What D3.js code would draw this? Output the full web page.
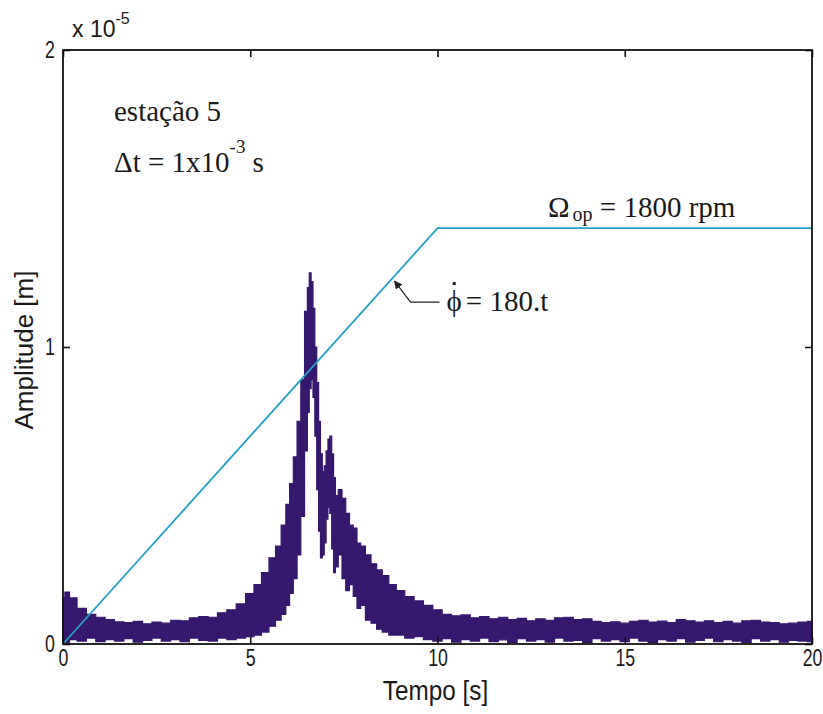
<!DOCTYPE html>
<html>
<head>
<meta charset="utf-8">
<script src="https://cdn.jsdelivr.net/npm/d3@7"></script>
<style>
  html, body { margin: 0; padding: 0; background: #ffffff; }
  svg { display: block; }
  .tick text, .lbl { font-family: "Liberation Sans", Arial, sans-serif; fill: #1a1a1a; }
  .ann { font-family: "Liberation Serif", "Times New Roman", serif; fill: #1a1a1a; }
</style>
</head>
<body>
<svg id="chart" width="823" height="714"></svg>
<script>
// Time axis ticks and amplitude ticks (amplitude in metres, shown in units of 1e-5)
const xTicks = [0, 5, 10, 15, 20];
const yTicks = [0, 1e-5, 2e-5];

// Rotor speed ramp: 180 rpm/s up to the 1800 rpm operating speed at t = 10 s
const speedTime = [0, 10, 20];
const speedRpm  = [0, 1800, 1800];

// Response envelope at station 5 (time in s, amplitude in 1e-6 m)
const sigTime = [0, 0.1, 0.25, 0.5, 0.75, 1.0, 1.25, 1.5, 1.75, 2.0, 2.25, 2.5, 2.75, 3.0, 3.25, 3.5, 3.75,
  4.0, 4.25, 4.5, 4.75, 5.0, 5.2, 5.4, 5.6, 5.75, 5.9, 6.0, 6.1, 6.2, 6.3, 6.4, 6.5, 6.55, 6.6, 6.65, 6.7,
  6.75, 6.8, 6.85, 6.9, 6.95, 7.0, 7.05, 7.1, 7.15, 7.2, 7.25, 7.3, 7.4, 7.5, 7.6, 7.7, 7.8, 7.9, 8.0, 8.15,
  8.3, 8.45, 8.6, 8.8, 9.0, 9.25, 9.5, 9.75, 10.0, 10.25, 10.5, 10.75, 11.0, 11.25, 11.5, 11.75, 12.0,
  12.25, 12.5, 12.75, 13.0, 13.25, 13.5, 13.75, 14.0, 14.25, 14.5, 14.75, 15.0, 15.25, 15.5, 15.75, 16.0,
  16.25, 16.5, 16.75, 17.0, 17.25, 17.5, 17.75, 18.0, 18.25, 18.5, 18.75, 19.0, 19.25, 19.5, 19.75, 20.0];
const sigUpper = [1.55, 1.75, 1.55, 1.2, 1.0, 0.9, 0.82, 0.75, 0.72, 0.76, 0.68, 0.74, 0.7, 0.8, 0.78, 0.88, 0.92,
  0.9, 1.05, 1.15, 1.35, 1.7, 2.0, 2.4, 2.9, 3.3, 4.0, 4.7, 5.4, 6.3, 7.5, 8.9, 11.2, 12.0, 12.5, 12.2, 11.3,
  10.0, 8.8, 7.5, 6.4, 5.8, 6.0, 6.5, 6.9, 7.0, 6.4, 5.6, 5.0, 5.2, 4.9, 4.4, 4.0, 3.9, 3.4, 3.3, 3.0,
  2.7, 2.5, 2.3, 2.0, 1.8, 1.6, 1.45, 1.3, 1.15, 1.0, 0.95, 0.98, 0.88, 0.92, 0.85, 0.9, 0.82,
  0.86, 0.78, 0.85, 0.8, 0.88, 0.9, 0.82, 0.85, 0.76, 0.72, 0.75, 0.7, 0.76, 0.8, 0.74, 0.77,
  0.72, 0.82, 0.78, 0.74, 0.78, 0.72, 0.76, 0.7, 0.78, 0.8, 0.74, 0.72, 0.68, 0.7, 0.74, 0.76];
const sigLower = [0.1, 0.05, 0.15, 0.1, 0.2, 0.08, 0.15, 0.1, 0.18, 0.06, 0.12, 0.2, 0.1, 0.15, 0.08, 0.2, 0.12,
  0.1, 0.2, 0.15, 0.2, 0.25, 0.3, 0.4, 0.6, 0.8, 1.0, 1.3, 1.7, 2.2, 3.0, 4.3, 6.5, 7.8, 8.6, 8.9, 8.3,
  7.0, 5.2, 3.8, 2.9, 3.0, 3.4, 4.2, 4.6, 4.4, 3.2, 2.4, 2.6, 3.0, 2.2, 1.8, 2.0, 1.6, 1.2, 1.3, 0.8,
  0.7, 0.5, 0.4, 0.3, 0.3, 0.2, 0.25, 0.15, 0.1, 0.18, 0.06, 0.15, 0.1, 0.2, 0.08, 0.14, 0.05,
  0.18, 0.1, 0.15, 0.06, 0.2, 0.1, 0.12, 0.05, 0.18, 0.1, 0.15, 0.08, 0.2, 0.1, 0.05, 0.15,
  0.1, 0.18, 0.06, 0.12, 0.2, 0.08, 0.15, 0.1, 0.05, 0.18, 0.1, 0.15, 0.06, 0.12, 0.1, 0.08];

const svg = d3.select("#chart");
const m = { left: 63, right: 11, top: 50, bottom: 70 };
const W = 823, H = 714;

const x = d3.scaleLinear().domain([0, 20]).range([m.left, W - m.right]);
const y = d3.scaleLinear().domain([0, 2e-5]).range([H - m.bottom, m.top]);
// speed drawn on the amplitude frame: 1800 rpm sits at 1.4e-5 m
const ySpeed = d3.scaleLinear().domain([0, 1800]).range([y(0), y(1.4e-5)]);

const sig = sigTime.map((t, i) => ({ t, hi: sigUpper[i] * 1e-6, lo: sigLower[i] * 1e-6 }));
const speed = speedTime.map((t, i) => ({ t, v: speedRpm[i] }));

const NARROW = 0.74;   // horizontal squeeze giving the condensed sans look

// response band
svg.append("path")
  .datum(sig)
  .attr("d", d3.area().curve(d3.curveStep).x(d => x(d.t)).y0(d => y(d.lo)).y1(d => y(d.hi)))
  .attr("fill", "#36186f")
  .attr("stroke", "#36186f")
  .attr("stroke-width", 1.2)
  .attr("stroke-linejoin", "miter");

// speed profile
svg.append("path")
  .datum(speed)
  .attr("d", d3.line().x(d => x(d.t)).y(d => ySpeed(d.v)))
  .attr("fill", "none")
  .attr("stroke", "#22a2c4")
  .attr("stroke-width", 1.8);

// axes (ticks pointing inward)
const fmtY = d => d3.format("d")(Math.round(d / 1e-5));
const gB = svg.append("g").attr("transform", `translate(0,${y(0)})`)
  .call(d3.axisBottom(x).tickValues(xTicks).tickSizeInner(-7).tickSizeOuter(0).tickPadding(5).tickFormat(d3.format("d")));
const gL = svg.append("g").attr("transform", `translate(${x(0)},0)`)
  .call(d3.axisLeft(y).tickValues(yTicks).tickSizeInner(-7).tickSizeOuter(0).tickPadding(8).tickFormat(fmtY));
const gT = svg.append("g").attr("transform", `translate(0,${y(2e-5)})`)
  .call(d3.axisTop(x).tickValues(xTicks).tickSizeInner(-7).tickSizeOuter(0).tickFormat(""));
const gR = svg.append("g").attr("transform", `translate(${x(20)},0)`)
  .call(d3.axisRight(y).tickValues(yTicks).tickSizeInner(-7).tickSizeOuter(0).tickFormat(""));
[gB, gL, gT, gR].forEach(g => {
  g.select(".domain").remove();
  g.selectAll(".tick line").attr("stroke", "#111").attr("stroke-width", 1.6);
  g.selectAll(".tick text").attr("font-size", 24);
});
gB.selectAll(".tick text").attr("transform", `scale(${NARROW},1)`);
gL.selectAll(".tick text").attr("x", -8 / NARROW).attr("transform", `scale(${NARROW},1)`);

// frame
svg.append("rect")
  .attr("x", x(0)).attr("y", y(2e-5))
  .attr("width", x(20) - x(0)).attr("height", y(0) - y(2e-5))
  .attr("fill", "none").attr("stroke", "#111").attr("stroke-width", 1.8);

// exponent
const ex = svg.append("text").attr("class", "lbl").attr("x", x(0) + 9).attr("y", y(2e-5) - 13).attr("font-size", 23);
ex.append("tspan").text("x 10");
ex.append("tspan").attr("dy", -13).attr("font-size", 16).text("-5");

// axis titles
svg.append("text").attr("class", "lbl")
  .attr("transform", `translate(${(x(0) + x(20)) / 2 - 2},${H - 14}) scale(0.9,1)`)
  .attr("text-anchor", "middle").attr("font-size", 27).text("Tempo [s]");
svg.append("text").attr("class", "lbl")
  .attr("transform", `translate(33,${(y(0) + y(2e-5)) / 2 + 3}) rotate(-90)`)
  .attr("text-anchor", "middle").attr("font-size", 26).text("Amplitude [m]");

// annotations
svg.append("text").attr("class", "ann").attr("x", 114).attr("y", 121).attr("font-size", 29).text("estação 5");
const dt = svg.append("text").attr("class", "ann").attr("x", 114).attr("y", 172).attr("font-size", 29);
dt.append("tspan").text("\u0394t = 1x10");
dt.append("tspan").attr("dy", -19).attr("font-size", 19).text("-3");
dt.append("tspan").attr("dy", 19).attr("dx", 7).text("s");

const om = svg.append("text").attr("class", "ann")
  .attr("x", x(12.95)).attr("y", ySpeed(1800) - 11).attr("font-size", 29);
om.append("tspan").text("\u03A9");
om.append("tspan").attr("dy", 4).attr("dx", 3).attr("font-size", 20).text("op");
om.append("tspan").attr("dy", -4).text(" = 1800 rpm");

// arrow to the ramp
const tipT = 8.8;
const tip = [x(tipT), ySpeed(180 * tipT)];
svg.append("defs").append("marker")
  .attr("id", "ah").attr("viewBox", "0 0 10 10").attr("refX", 9).attr("refY", 5)
  .attr("markerWidth", 7).attr("markerHeight", 7).attr("orient", "auto")
  .append("path").attr("d", "M0,0 L10,5 L0,10 Z").attr("fill", "#222");
svg.append("path")
  .attr("d", `M${tip[0] + 47},${tip[1] + 24} H${tip[0] + 18} L${tip[0] + 2},${tip[1] + 3}`)
  .attr("fill", "none").attr("stroke", "#222").attr("stroke-width", 1.2)
  .attr("marker-end", "url(#ah)");
const phi = svg.append("text").attr("class", "ann")
  .attr("x", tip[0] + 54).attr("y", tip[1] + 33).attr("font-size", 29).text("\u03D5");
const pb = phi.node().getBBox();
svg.append("rect")
  .attr("x", pb.x + pb.width / 2 - 1.5).attr("y", pb.y - 3).attr("width", 3).attr("height", 3).attr("fill", "#1a1a1a");
svg.append("text").attr("class", "ann")
  .attr("x", pb.x + pb.width + 4).attr("y", tip[1] + 33).attr("font-size", 29).text("= 180.t");
</script>
</body>
</html>
